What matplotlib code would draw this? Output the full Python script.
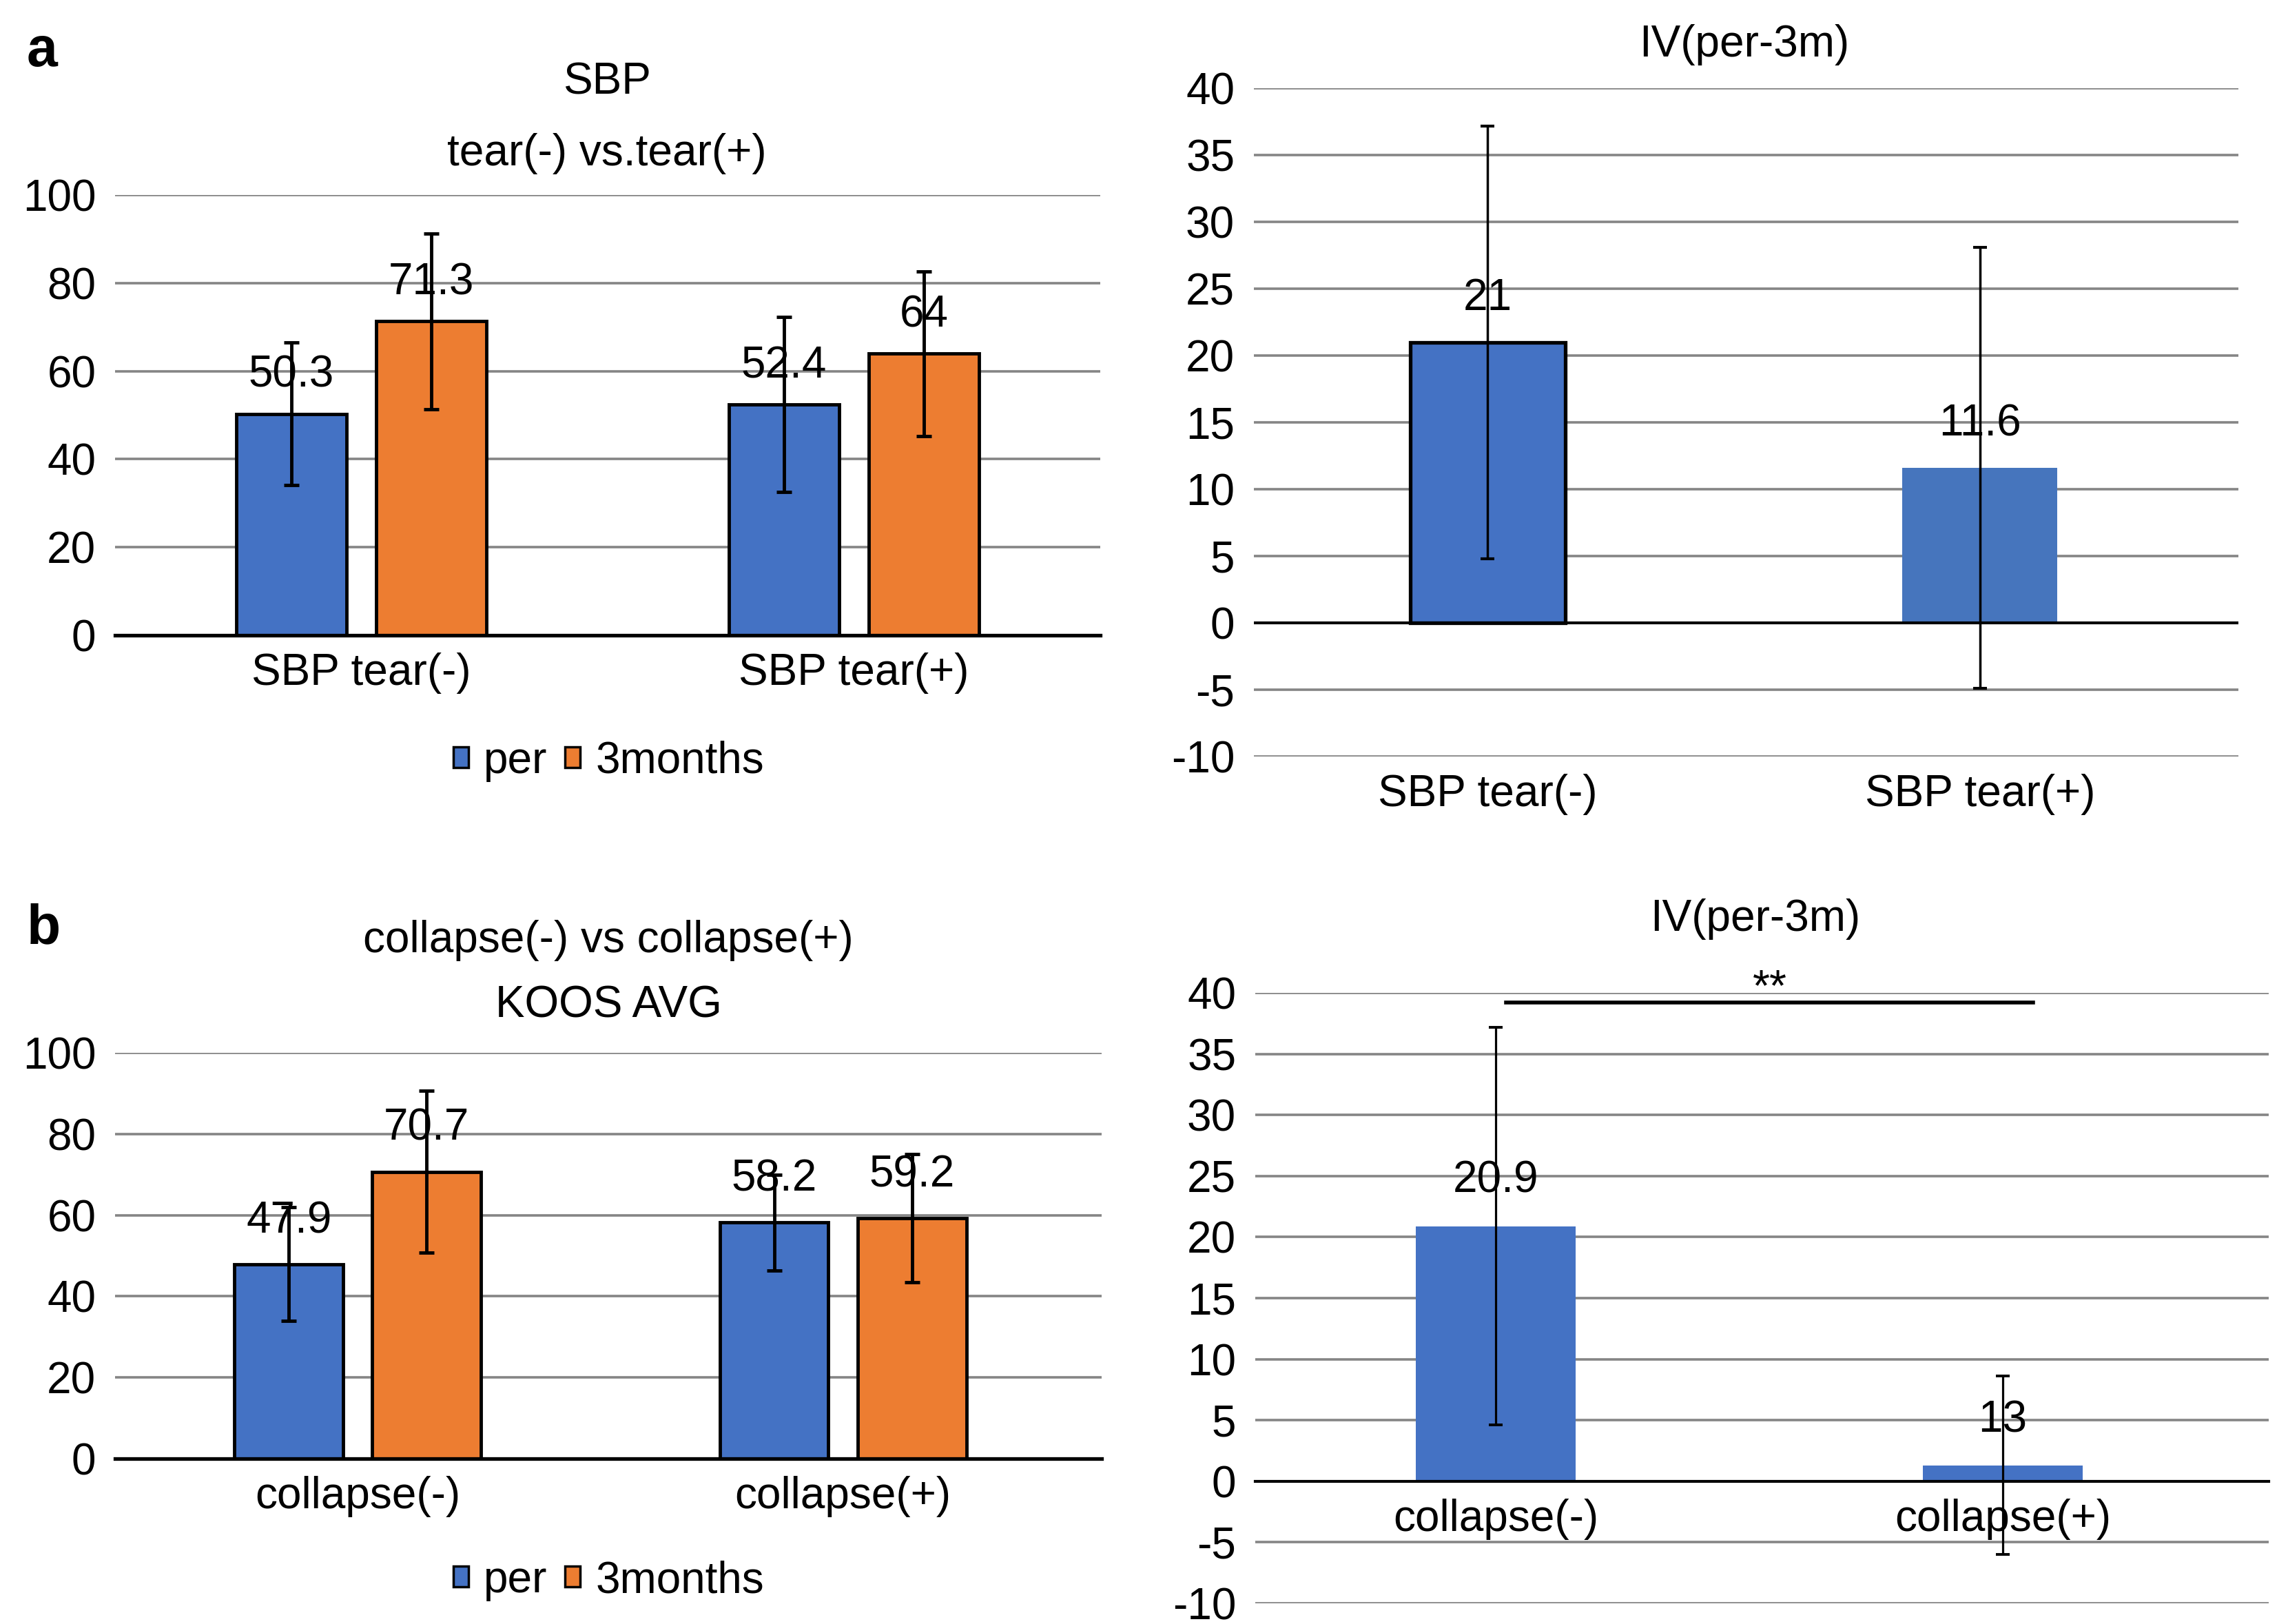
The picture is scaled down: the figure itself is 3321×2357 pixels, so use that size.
"""Two-panel bar figure: SBP tear and collapse groups, per vs 3 months, with IV(per-3m)."""

import matplotlib

matplotlib.use("Agg")
import matplotlib.pyplot as plt
import numpy as np
from matplotlib.patches import Patch

plt.rcParams.update({
    "font.family": ["Liberation Sans", "DejaVu Sans"],
    "font.size": 46,
    "axes.unicode_minus": False,
})

BLUE = "#4472C4"
ORANGE = "#ED7D31"
BLUE_ALT = "#4675BD"
GRID = "#858585"
FS = 46

SERIES = ["per", "3months"]

# panel a, left: SBP, tear(-) vs tear(+)
sbp_groups = ["SBP tear(-)", "SBP tear(+)"]
sbp_per = [50.3, 52.4]
sbp_per_err = [16.2, 19.9]
sbp_3m = [71.3, 64]
sbp_3m_err = [19.9, 18.7]

# panel a, right: IV(per-3m)
iv_a_groups = ["SBP tear(-)", "SBP tear(+)"]
iv_a = [21, 11.6]
iv_a_err = [16.2, 16.5]

# panel b, left: KOOS AVG, collapse(-) vs collapse(+)
koos_groups = ["collapse(-)", "collapse(+)"]
koos_per = [47.9, 58.2]
koos_per_err = [14.0, 11.8]
koos_3m = [70.7, 59.2]
koos_3m_err = [20.0, 15.8]

# panel b, right: IV(per-3m)
iv_b_groups = ["collapse(-)", "collapse(+)"]
iv_b = [20.9, 1.3]
iv_b_err = [16.3, 7.3]
iv_b_labels = ["20.9", "13"]  # the dot sits under the error bar in the original


def _style(ax, lo, hi, step, xlim=(-0.5, 1.5)):
    ax.set_xlim(*xlim)
    ax.set_ylim(lo, hi)
    ax.set_yticks(np.arange(lo, hi + step / 2, step))
    ax.grid(axis="y", color=GRID, lw=2.6)
    ax.set_axisbelow(True)
    for s in ax.spines.values():
        s.set_visible(False)
    ax.tick_params(axis="y", length=0, pad=20, labelsize=FS)
    ax.tick_params(axis="x", length=0, pad=18, labelsize=FS)


def _grouped(ax, groups, per, per_err, m3, m3_err, lab_off, xlim=(-0.5, 1.5)):
    x = np.arange(len(groups))
    for off, vals, errs, col in [(-0.142, per, per_err, BLUE),
                                 (0.142, m3, m3_err, ORANGE)]:
        xs = x + off
        ax.bar(xs, vals, 0.224, color=col, edgecolor="black", lw=3.5,
               zorder=2)
        for xi, v in zip(xs, vals):
            ax.annotate(f"{v:g}", (xi, v), xytext=(0, lab_off),
                        textcoords="offset points", ha="center",
                        va="baseline", fontsize=FS, zorder=3)
        ax.errorbar(xs, vals, yerr=errs, fmt="none", ecolor="black",
                    elinewidth=3.5, capsize=8, capthick=3.5, zorder=4)
    ax.axhline(0, color="black", lw=3.8, zorder=2.5, clip_on=False)
    _style(ax, 0, 100, 20, xlim)
    ax.set_xticks(x, groups)


def _single(ax, groups, vals, errs, labels, lab_off, colors, edges, lws, elw):
    x = np.arange(len(groups))
    ax.bar(x, vals, 0.315, color=colors, edgecolor=edges, linewidth=lws,
           zorder=2)
    for xi, v, t in zip(x, vals, labels):
        ax.annotate(t, (xi, v), xytext=(0, lab_off),
                    textcoords="offset points", ha="center",
                    va="baseline", fontsize=FS, zorder=3)
    ax.errorbar(x, vals, yerr=errs, fmt="none", ecolor="black",
                elinewidth=elw, capsize=7, capthick=elw + 0.5, zorder=4)
    _style(ax, -10, 40, 5, (-0.475, 1.525))
    ax.set_xticks(x, groups)


def _legend(fig, y):
    handles = [Patch(facecolor=BLUE, edgecolor="black", lw=2.5),
               Patch(facecolor=ORANGE, edgecolor="black", lw=2.5)]
    fig.legend(handles, SERIES, loc="center", bbox_to_anchor=(0.266, y),
               ncol=2, frameon=False, fontsize=FS, handlelength=0.34,
               handleheight=0.34, handletextpad=0.35, columnspacing=0.4)


def main():
    fig = plt.figure(figsize=(33.21, 23.57), dpi=100)

    # panel a
    ax1 = fig.add_axes([0.0503, 0.6088, 0.4306, 0.2711])
    _grouped(ax1, sbp_groups, sbp_per, sbp_per_err, sbp_3m, sbp_3m_err, 28)
    _legend(fig, 0.5312)

    ax2 = fig.add_axes([0.5480, 0.5340, 0.4303, 0.4115])
    _single(ax2, iv_a_groups, iv_a, iv_a_err, [f"{v:g}" for v in iv_a], 34,
            [BLUE, BLUE_ALT], ["black", "none"], [3.8, 0], 2.5)
    ax2.axhline(0, color="black", lw=3, zorder=2.5)

    # panel b
    ax3 = fig.add_axes([0.0503, 0.1018, 0.4312, 0.2499])
    _grouped(ax3, koos_groups, koos_per, koos_per_err, koos_3m, koos_3m_err,
             33, xlim=(-0.5, 1.533))
    _legend(fig, 0.0267)

    ax4 = fig.add_axes([0.5486, 0.0127, 0.4430, 0.3759])
    _single(ax4, iv_b_groups, iv_b, iv_b_err, iv_b_labels, 35,
            [BLUE, BLUE], ["none", "none"], [0, 0], 2.3)
    ax4.spines["bottom"].set_visible(True)
    ax4.spines["bottom"].set_position(("data", 0))
    ax4.spines["bottom"].set_color("black")
    ax4.spines["bottom"].set_linewidth(3)
    ax4.spines["bottom"].set_zorder(2.5)
    # significance bracket
    ax4.plot([0.02, 1.06], [39.2, 39.2], color="black", lw=4, zorder=3)
    ax4.text(0.54, 39.4, "**", ha="center", va="baseline", fontsize=FS)

    # titles and panel letters
    fig.text(0.0115, 0.968, "a", fontsize=58, fontweight="bold", va="center")
    fig.text(0.0115, 0.428, "b", fontsize=58, fontweight="bold", va="center")
    fig.text(0.2653, 0.9495, "SBP", ha="center", va="center", fontsize=FS)
    fig.text(0.2653, 0.9054, "tear(-) vs.tear(+)", ha="center", va="center",
             fontsize=FS)
    fig.text(0.7624, 0.9724, "IV(per-3m)", ha="center", va="center",
             fontsize=FS)
    fig.text(0.2659, 0.4209, "collapse(-) vs collapse(+)", ha="center",
             va="center", fontsize=FS)
    fig.text(0.2659, 0.3806, "KOOS AVG", ha="center", va="center",
             fontsize=FS)
    fig.text(0.7672, 0.4340, "IV(per-3m)", ha="center", va="center",
             fontsize=FS)

    fig.savefig("out.png", dpi=100, facecolor="white")
    plt.close(fig)


if __name__ == "__main__":
    main()
